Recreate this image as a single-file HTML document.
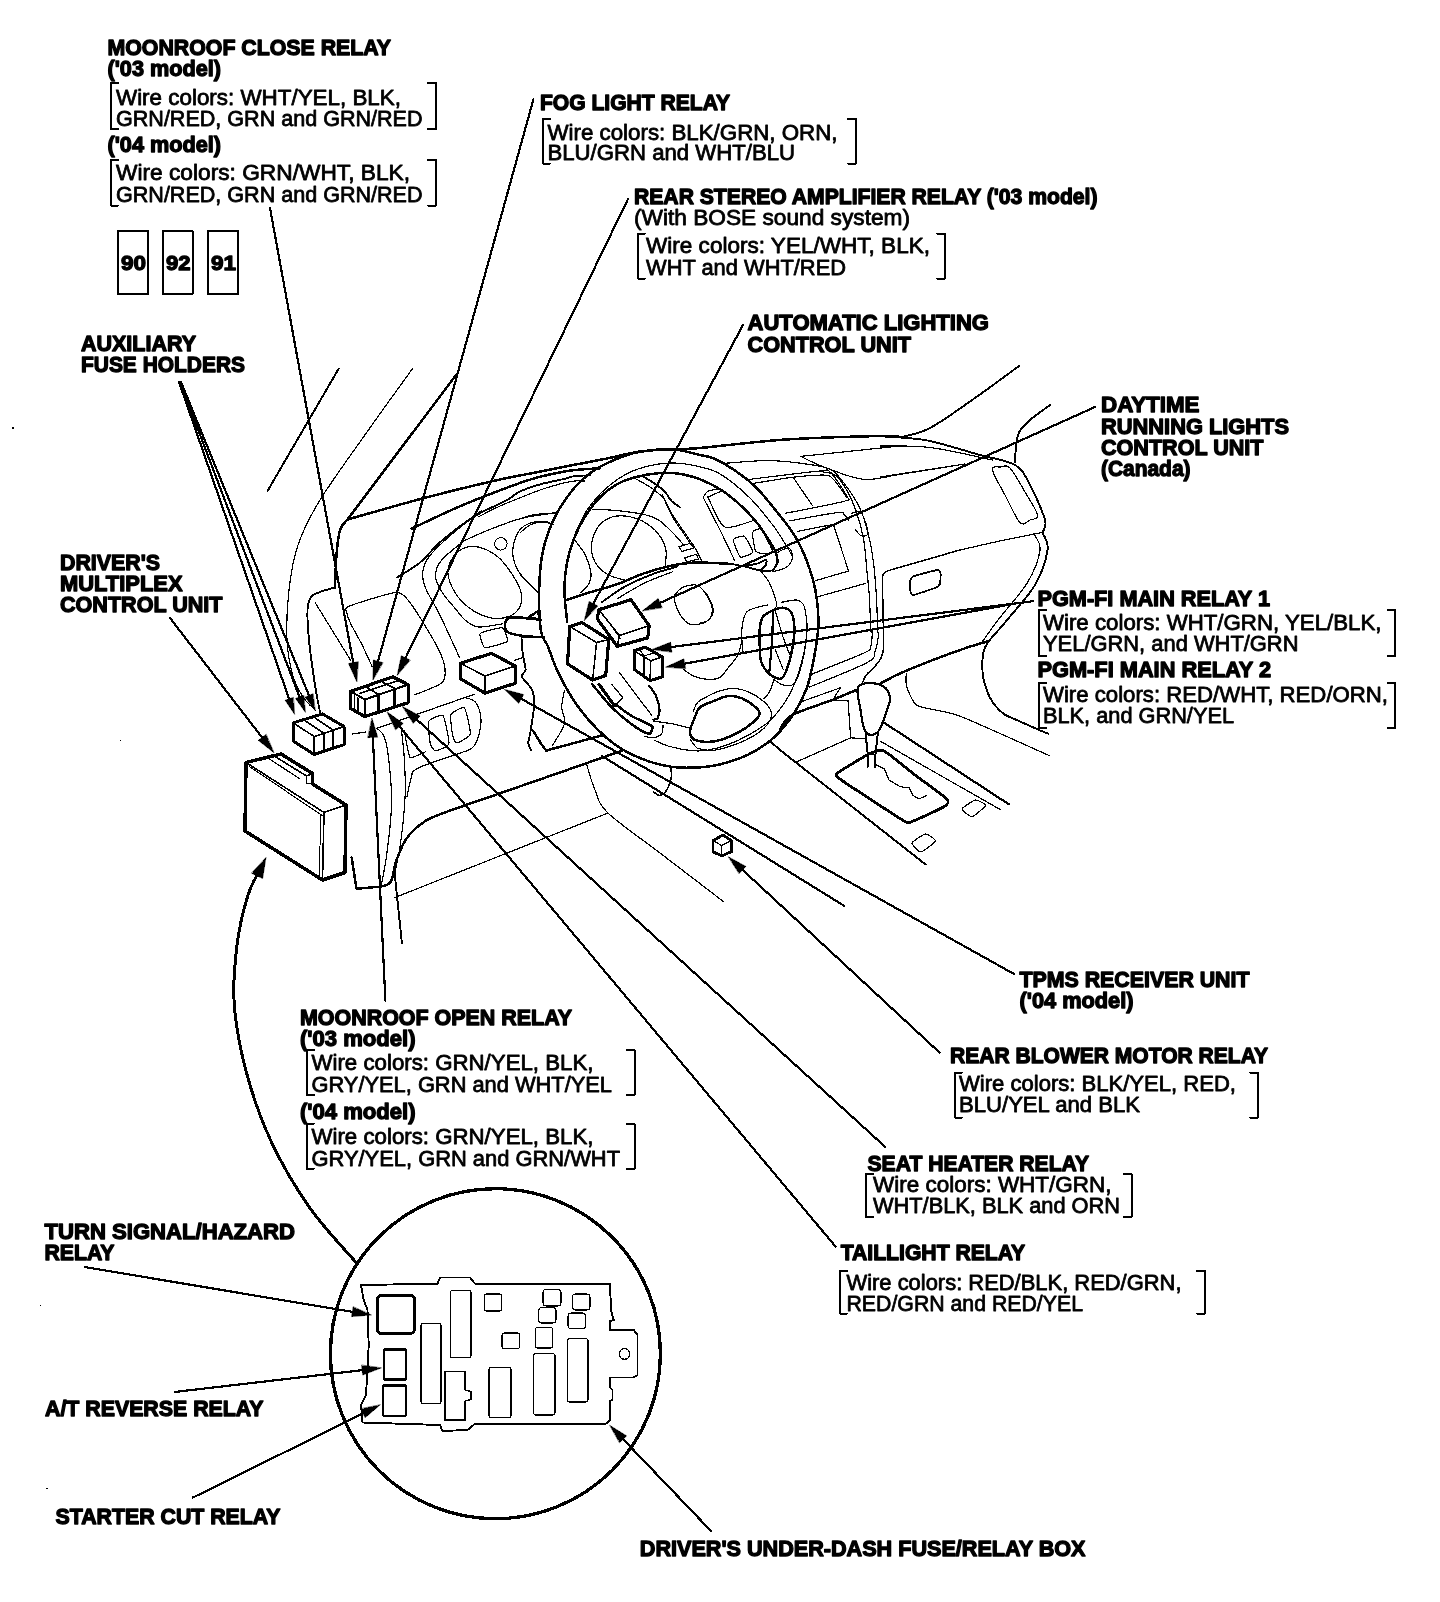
<!DOCTYPE html>
<html><head><meta charset="utf-8"><title>Relay and control unit locations</title>
<style>
html,body{margin:0;padding:0;background:#fff;}
body{width:1440px;height:1602px;overflow:hidden;font-family:"Liberation Sans",sans-serif;}
svg{display:block;will-change:transform;font-family:"Liberation Sans",sans-serif;}
svg path,svg circle,svg rect{stroke-linecap:round;stroke-linejoin:round;shape-rendering:crispEdges;}
svg path{stroke:#000;}
</style></head><body>
<svg width="1440" height="1602" viewBox="0 0 1440 1602" fill="none" stroke="#000">
<rect x="0" y="0" width="1440" height="1602" fill="#fff" stroke="none"/>
<path d="M267.5 491L338.7 368.7" stroke-width="2"/>
<path d="M412.5 368.7C405.8 378.1 387.4 403.1 372 425C356.6 446.9 332.3 480 320 500C307.7 520 303.2 530 298 545C292.8 560 290.8 574.2 289 590C287.2 605.8 286.3 625.7 287 640C287.7 654.3 290.3 666.5 293 676C295.7 685.5 299.2 691.2 303 697C306.8 702.8 313.8 708.7 316 711" stroke-width="1.2" fill="none"/>
<path d="M456 375L347.5 519.5" stroke-width="2.5"/>
<path d="M347.5 519.5C360 516 399 504.7 422.7 498.4C446.4 492.1 470.1 486.3 489.7 481.8C509.2 477.3 526.1 474.4 540 471.6C553.9 468.8 562.3 467.1 573.3 465C584.3 462.9 594.9 460.9 606 458.7C617.1 456.4 628.5 453.1 640 451.5C651.5 449.9 665 449.6 675 449C685 448.4 682 449.6 700 448C718 446.4 755.5 441.6 783.3 439.7C811.1 437.8 847.2 436.8 866.7 436.3C886.2 435.8 894.5 436.7 900 436.8" stroke-width="2.5" fill="none"/>
<path d="M900 437.5C905 435.9 917.5 434.6 930 428C942.5 421.4 960.2 408.3 975 398C989.8 387.7 1011.7 371.3 1019 366" stroke-width="1.9" fill="none"/>
<path d="M347.5 519.5C346.2 521.2 341.8 524.1 340 530C338.2 535.9 337.3 545.4 336.5 555C335.7 564.6 335.2 582.1 335 587.5" stroke-width="2.5" fill="none"/>
<path d="M335 587.5C332.5 588.2 324 590.4 320 592C316 593.6 313.1 594 311 597C308.9 600 307.8 602.8 307.5 610C307.2 617.2 307.8 627.5 309 640C310.2 652.5 313.2 673 315 685C316.8 697 319.2 707.5 320 712" stroke-width="1.9" fill="none"/>
<path d="M1050 405C1046.7 407.5 1035.2 415.4 1030 420C1024.8 424.6 1021.3 428 1019 432.5C1016.7 437 1016.7 442 1016 447C1015.3 452 1015.2 459.9 1015 462.5" stroke-width="1.9" fill="none"/>
<path d="M900 437.5C905 438.1 916.7 438.1 930 441C943.3 443.9 965.8 451 980 455C994.2 459 1006.7 460 1015 465C1023.3 470 1025 475.8 1030 485C1035 494.2 1042.9 512.1 1045 520C1047.1 527.9 1042.9 530.4 1042.5 532.5" stroke-width="1.9" fill="none"/>
<path d="M880 446C888.3 446.2 911.2 445.2 930 447.5C948.8 449.8 982.1 457.9 992.5 460" stroke-width="1.2" fill="none"/>
<path d="M880 477L965 464" stroke-width="1.2"/>
<path d="M992.5 470C991.8 465.3 998.1 467.3 1001 467C1003.9 466.7 1006 463.8 1010 468C1014 472.2 1020.4 484.2 1025 492C1029.6 499.8 1036.7 510.3 1037.5 515C1038.3 519.7 1032.9 518.8 1030 520C1027.1 521.2 1024.2 526.7 1020 522.5C1015.8 518.3 1009.6 503.8 1005 495C1000.4 486.2 993.2 474.7 992.5 470Z" stroke-width="1.2" fill="none"/>
<path d="M1042.5 532.5C1035.4 533.9 1013.8 538.1 1000 541C986.2 543.9 966.7 548.5 960 550" stroke-width="1.2" fill="none"/>
<path d="M960 550C952.1 552.3 901.2 566.8 892.5 569.4C883.8 572 886.2 571.6 885 572.5C883.8 573.4 882.7 572.5 882.5 577.5C882.3 582.5 883 607 883.1 615C883.2 623 883.9 641.2 883.7 646.2C883.5 651.2 882.2 655.2 881.2 657.5C880.2 659.8 876.8 664.2 875 666.2C873.2 668.2 867.7 673.1 866.2 675C864.7 676.9 862.9 681.6 862.5 682.5" stroke-width="1.5" fill="none"/>
<path d="M910 581.2C910.3 579.8 911.4 577.1 913.7 576.2C916 575.3 935.3 570.2 937.5 570C939.7 569.8 940.4 572.6 940.6 573.7C940.8 574.8 940.4 582.6 940 583.7C939.6 584.9 938.4 586.6 936.2 587.5C934 588.4 915.8 594.6 913.7 595C911.6 595.4 910.9 593.6 910.6 592.5C910.3 591.4 909.7 582.6 910 581.2Z" stroke-width="1.8" fill="none"/>
<path d="M1042.5 532.5C1043.3 535.4 1048.8 541.2 1047.5 550C1046.2 558.8 1042.1 572.9 1035 585C1027.9 597.1 1013.3 612.1 1005 622.5C996.7 632.9 988.7 639.2 985 647.5C981.3 655.8 982.2 665.2 982.6 672.5C983 679.8 985.3 686.2 987.2 691.5C989.1 696.8 991.2 700.4 994 704.1C996.8 707.8 999.7 711.1 1003.7 713.9C1007.8 716.7 1012.6 718.1 1018.3 720.7C1024 723.3 1032.7 727.2 1037.7 729.4C1042.7 731.6 1046.6 733.1 1048.4 733.8" stroke-width="1.9" fill="none"/>
<path d="M1033.7 533.7C1034.8 536.4 1041 541.9 1040 550C1039 558.1 1034.5 570.8 1027.5 582.5C1020.5 594.2 1005.9 609.6 998 620C990.1 630.4 983 640.8 980 645" stroke-width="1.2" fill="none"/>
<path d="M989 641C984.2 642.5 974 645 960 650C946 655 918.3 665.6 905 671.2C891.7 676.8 884.2 681.6 880 683.7" stroke-width="2.5" fill="none"/>
<path d="M856.2 690C852.5 691.6 844.3 695.2 833.7 699.4C823.1 703.6 801.5 710.1 792.5 715C783.5 719.9 782.1 726.7 780 729" stroke-width="2.5" fill="none"/>
<path d="M906.2 673.1C906.2 674.3 905.8 681.1 906.2 683.7C906.6 686.3 908.5 692.4 910 695C911.5 697.6 912.9 703.7 918.7 706.2C924.5 708.7 944.8 710.4 960 716.2C975.2 722 1038.6 750.9 1049 755.5" stroke-width="1.2" fill="none"/>
<path d="M351.7 857.6L356.5 888.7L378.9 886.8" stroke-width="2.5" fill="none"/>
<path d="M378.9 886.8C380.8 886 387.7 886.3 390.6 881.9C393.5 877.5 393.8 867.6 396.4 860.5C399 853.4 401.9 845.4 406.1 839.2C410.3 833.1 415.9 827.8 421.7 823.6C427.5 819.4 428.2 818.9 441.1 813.9C454.1 808.9 479.6 800.4 499.4 793.5C519.2 786.6 539.2 779.8 560 772.5C580.8 765.2 613.3 753.8 624 750" stroke-width="2.5" fill="none"/>
<path d="M395 897.5L608 813" stroke-width="1.2"/>
<path d="M587 765.5C588.3 769.6 591.5 782.1 595 790C598.5 797.9 597.2 802.5 608 813C618.8 823.5 640.7 838.2 660 853C679.3 867.8 713.3 893.8 724 902" stroke-width="1.2" fill="none"/>
<path d="M401.9 943L394.5 872" stroke-width="1.9"/>
<path d="M377 728.3C378.3 729.9 382.6 731.5 384.7 738C386.8 744.5 388.5 755.9 389.6 767.2C390.7 778.6 392 791.5 391.5 806.1C391 820.7 388.5 841.1 386.7 854.7C384.9 868.3 381.8 882.3 380.8 887.8" stroke-width="1.2" fill="none"/>
<path d="M401.2 728.3C401.7 733.2 403.5 746.1 404.2 757.5C404.9 768.9 405.8 781.8 405.1 796.4C404.5 811 402.1 832 400.3 845C398.5 858 395.4 869.3 394.4 874.2" stroke-width="1.2" fill="none"/>
<path d="M602 756L844.4 906" stroke-width="2.2"/>
<path d="M653.3 792C654.5 792.6 658 795.9 660.3 795.4C662.6 794.9 665.4 792.3 667.2 789.2C669.1 786.1 670.8 780.4 671.4 776.7C672 773 670.8 768.6 670.7 767" stroke-width="1.6" fill="none"/>
<path d="M769.4 740.6L780 750L925.5 864.4" stroke-width="2" fill="none"/>
<path d="M883 722L1009 804.4" stroke-width="2.2"/>
<path d="M880 741L1001 810" stroke-width="1.2"/>
<path d="M857.8 687.8C859.3 683.8 864.6 683.2 869 683C873.4 682.8 880.5 684.2 884 686.7C887.5 689.2 889.5 693.8 890 697.8C890.5 701.8 888.7 705.3 886.7 711C884.7 716.7 881.3 728.5 877.8 732C874.3 735.5 868.5 736.2 865.5 732C862.5 727.8 861.3 714.1 860 706.7C858.7 699.3 856.3 691.8 857.8 687.8Z" stroke-width="2.2" fill="none"/>
<path d="M865.5 733L867.8 754.4L867.8 766.7" stroke-width="2" fill="none"/>
<path d="M877.8 733L875.5 754.4L875 766.7" stroke-width="2" fill="none"/>
<path d="M867.8 754.4L875.5 754.4" stroke-width="1.8"/>
<path d="M837.8 773C840.7 770.5 864.4 756.2 869 754C873.6 751.8 879.4 748.9 884 751C888.6 753.1 908.7 770.2 915 775C921.3 779.8 943.8 795.8 946.7 799C949.6 802.2 947.6 804.4 944 806.7C940.4 809 915 820.6 911 822C907 823.4 908.1 823.3 904 821C899.9 818.7 876.4 803.2 870 799C863.6 794.8 843.2 781.6 840 779C836.8 776.4 834.9 775.5 837.8 773Z" stroke-width="2.8" fill="none"/>
<path d="M875.5 764.4L884.4 769L889 780L900 786.7L909 787.8L913 795.5L919 799L926.7 795.5" stroke-width="1.2" fill="none"/>
<path d="M962 809C962.3 807.6 973.5 800.3 975.5 800C977.5 799.7 985.8 804.1 985.5 805.5C985.2 806.9 974 816.4 972 816.7C970 817 961.7 810.4 962 809Z" stroke-width="1.2" fill="none"/>
<path d="M912 843C912.4 841.5 923.5 834.2 925.5 834C927.5 833.8 935.9 839.5 935.5 841C935.1 842.5 923 851.8 921 852C919 852.2 911.6 844.5 912 843Z" stroke-width="1.2" fill="none"/>
<path d="M411.5 528.7C419.2 525.1 443.4 513.5 457.8 507.2C472.2 500.9 487.3 495.2 497.7 491.2C508.1 487.2 513 485.4 520 483C527 480.6 531.5 478.9 540 476.8C548.5 474.7 561.2 471.9 571.2 470.5C581.2 469.1 595 468.7 599.7 468.3" stroke-width="2.5" fill="none"/>
<path d="M397 577.4C400.8 575 412 569.1 419.5 563C427 556.9 432.8 548.4 441.8 540.7C450.9 533 463.2 523.4 473.8 516.7C484.4 510.1 498 505 505.7 500.8C513.4 496.6 514.3 494.2 520 491.5C525.7 488.8 532.6 486.5 540 484.4C547.4 482.3 558.5 480.3 564.3 478.9C570.1 477.5 570.4 476.7 574.7 476.1C579 475.5 587.5 475.5 590 475.4" stroke-width="1.9" fill="none"/>
<path d="M478 517C481.7 515.2 493 509.2 500 506C507 502.8 513.3 500.5 520 497.8C526.7 495.1 533.2 492.4 540 490C546.8 487.6 555 485.2 560.8 483.7C566.6 482.2 570.8 481.4 574.7 481C578.6 480.6 582.8 481 584.4 481" stroke-width="1.2" fill="none"/>
<path d="M464.2 540.7C468.4 538.8 480.1 533.2 489.7 529.5C499.3 525.8 510.7 521.1 521.7 518.3C532.8 515.5 550.3 513.8 556 512.9" stroke-width="1.2" fill="none"/>
<path d="M464.2 540.7C460.5 543.9 446.6 554 441.8 559.9C437 565.8 435.4 570.5 435.4 575.8C435.4 581.1 438.6 586.5 441.8 591.8C445 597.1 450.6 603 454.6 607.8C458.6 612.6 461.8 617.4 465.8 620.6C469.8 623.8 472.5 626.5 478.6 627C484.7 627.5 498.5 624.3 502.5 623.8" stroke-width="1.2" fill="none"/>
<path d="M481.8 510.4C476.5 514.6 458.6 528.2 449.8 535.9C441 543.6 433.5 550.6 429 556.7C424.5 562.8 423.2 567.4 422.7 572.7C422.2 578 423.1 582 425.8 588.6C428.5 595.2 434.3 604.1 438.6 612.6C442.9 621.1 447.9 632.2 451.4 639.7C454.9 647.2 458.1 654.4 459.4 657.3" stroke-width="1.2" fill="none"/>
<path d="M448.2 575.8C447.1 569.7 449 564.4 451.4 559.9C453.8 555.4 458.1 550.8 462.6 548.7C467.1 546.6 472.8 545.8 478.6 547.1C484.5 548.4 492.1 552.2 497.7 556.7C503.3 561.2 508.2 568.4 512.1 574.3C516 580.1 519.6 586.5 520.9 591.8C522.2 597.1 521.8 602.2 520.1 606.2C518.4 610.2 515 613.8 510.5 615.8C506 617.8 499 619 492.9 618.2C486.8 617.4 479.6 614.6 473.8 611C468 607.4 462.1 602.5 457.8 596.6C453.5 590.7 449.3 581.9 448.2 575.8Z" stroke-width="1.2" fill="none"/>
<circle cx="500.9" cy="543.9" r="6.2" stroke="#000" stroke-width="1" fill="none"/>
<path d="M552 524C549.6 523.6 542.8 520.9 537.7 521.5C532.7 522.1 525.7 524.2 521.7 527.9C517.7 531.6 515 538.6 513.7 543.9C512.4 549.2 512.4 554.6 513.7 559.9C515 565.2 517.7 570.5 521.7 575.8C525.7 581.1 535 589.1 537.7 591.8" stroke-width="1.2" fill="none"/>
<path d="M539.3 619C535.9 618.8 514.5 616.8 510.5 617.4C506.5 618 505.3 622.1 504.9 623.8C504.5 625.5 505.3 630.4 507.3 631.8C509.3 633.2 517.4 635.1 521.7 635.8C526 636.5 541.4 637.2 544 637.4" stroke-width="2.5" fill="none"/>
<path d="M529.7 617.4L537.7 611L539.3 619" stroke-width="1.9" fill="none"/>
<path d="M480.2 633.4C481.4 632.1 500.7 627.3 502.5 627.8C504.3 628.3 508.5 640.1 507.3 641.4C506.1 642.7 486.8 648.2 485 647.7C483.2 647.2 479 634.7 480.2 633.4Z" stroke-width="1.2" fill="none"/>
<path d="M514.5 660.5L523.3 657.3" stroke-width="1.2"/>
<path d="M372.3 666.9C370.9 663.9 364.8 650.2 361.9 644.5C359 638.8 352.8 628.1 350.8 623.8C348.8 619.5 347 614.9 346.8 612.6C346.6 610.3 343.3 608.8 349.2 606.2C355.1 603.6 383.7 595 390.7 593.4C397.7 591.8 399.1 592.7 401.9 594.2C404.7 595.7 408.3 600.2 411.5 604.6C414.7 609 422.2 621 425.8 627C429.4 633 436 643.8 438.6 649.3C441.2 654.8 444.6 664 445 668.5C445.4 673 445.8 679.4 441.8 682.9C437.8 686.4 418.3 693.3 414.7 694.9" stroke-width="1.2" fill="none"/>
<path d="M315.2 602.7L350.8 660.5" stroke-width="1.2"/>
<path d="M352.6 734L365.3 732" stroke-width="1.2"/>
<path d="M377 728.3L474.2 694.3" stroke-width="1.2"/>
<path d="M464.4 697.2C466.3 698.2 473.3 698.8 476.1 703C478.9 707.2 481.3 715.4 481 722.5C480.7 729.6 477.9 740.6 474.2 745.8C470.5 751 468 749.9 458.6 753.6C449.2 757.3 425.7 764 417.8 768.2C409.9 772.4 412.8 774.2 411 778.9C409.2 783.6 407.8 793.5 407.1 796.4" stroke-width="1.2" fill="none"/>
<path d="M428.5 721.5C429.6 719.1 441.3 713.8 443 715.7C444.7 717.6 449.5 741 448.9 743.9C448.3 746.8 436.8 750.7 435.3 750.7C433.8 750.7 431 746.3 430.4 743.9C429.8 741.5 427.4 723.9 428.5 721.5Z" stroke-width="1.2" fill="none"/>
<path d="M450.8 714.7C451.8 712.4 462.8 706.3 464.4 707.9C466 709.5 470.9 731.3 470.3 734.2C469.7 737.1 458.2 742.7 456.7 742.9C455.2 743.1 453.3 738.5 452.8 736.1C452.3 733.8 449.8 717.1 450.8 714.7Z" stroke-width="1.2" fill="none"/>
<path d="M404.2 730.3C404.6 732.1 408.6 756.1 410 757.5C411.4 758.9 424.6 752.1 425.6 751.7" stroke-width="1.2" fill="none"/>
<path d="M540.8 630C539.4 619.5 538.9 596.5 539.4 582.8C539.9 569.1 541 558.9 543.6 548C546.2 537.1 549.8 527.2 554.7 517.5C559.6 507.8 566.5 497.3 572.8 489.7C579 482.1 585.3 476.7 592.2 471.7C599.1 466.7 606.8 463.1 614.4 459.9C622 456.6 628.3 453.9 638 452.2C647.7 450.4 662.5 448.9 672.8 449.4C683.1 449.9 693.1 453.5 700 455C706.9 456.5 708.1 455.9 713.9 458.5C719.7 461.1 727.8 465.6 734.7 470.3C741.7 475 749.1 480.6 755.6 486.9C762.1 493.1 768.1 501.1 773.6 507.8C779.1 514.5 784.5 521 788.9 527.2C793.3 533.5 796.5 538.3 800 545.3C803.5 552.2 807.2 561.5 809.7 568.9C812.2 576.3 813.9 582.8 815.3 589.7C816.7 596.7 817.5 603.8 818 610.6C818.5 617.5 818.7 622.8 818 630.8C817.3 638.8 815.8 649.1 813.9 658.6C812 668.1 810.1 678.8 806.9 687.8C803.6 696.8 799.9 704.5 794.4 712.8C788.9 721.1 781.2 730.9 773.6 737.8C766 744.7 757.4 750 748.6 754.4C739.8 758.8 728.9 762.1 720.8 764.2C712.7 766.4 708 766.8 700 767.3C692 767.8 682 768.2 672.8 767C663.6 765.8 654.3 763.5 645 760C635.7 756.5 626 752.1 617.2 746.1C608.4 740.1 599.6 731.8 592.2 723.9C584.8 716 578.6 707.7 572.8 698.9C567 690.1 561.7 679.9 557.5 671.1C553.3 662.3 550.6 653 547.8 646.1C545 639.2 542.2 640.5 540.8 630Z" stroke-width="2.5" fill="none"/>
<path d="M567.2 621.7C566.7 616.4 564.4 599.7 564.4 589.7C564.4 579.7 565.6 570.5 567.2 561.9C568.8 553.3 571.2 545.9 574.2 538.3C577.2 530.7 580.9 523 585.3 516.1C589.7 509.2 595.3 502 600.6 496.7C605.9 491.4 611.4 487.4 617.2 484.2C623 480.9 628.3 479 635.3 477.2C642.2 475.4 651.5 473.7 658.9 473.1C666.3 472.5 672.9 472.8 679.7 473.8C686.6 474.8 693.1 476.7 700 479.3C706.9 481.9 713.8 485.2 720.8 489.7C727.8 494.2 735.5 500.6 741.7 506.4C748 512.2 753.7 518.6 758.3 524.4C762.9 530.2 766.5 536.5 769.4 541.1C772.3 545.7 774.3 548.7 775.7 552.2C777.1 555.7 777.4 560.3 777.8 561.9" stroke-width="2.5" fill="none"/>
<path d="M574.2 535.6C576.3 531.4 581.4 518.5 586.7 510.6C592 502.7 598.7 494.8 606.1 488.3C613.5 481.8 622.3 475.8 631.1 471.7C639.9 467.6 650.8 465.4 658.9 464C667 462.6 672.9 462.8 679.7 463.3C686.6 463.8 693.1 465 700 466.8C706.9 468.6 712.7 469.4 720.8 474.4C728.9 479.4 740 488.4 748.6 496.7C757.2 505 766 516.3 772.2 524.4C778.5 532.5 782.9 540.2 786.1 545.3C789.4 550.4 790.8 553.4 791.7 555" stroke-width="1.2" fill="none"/>
<path d="M782 602.2C784.5 601.9 793.5 599.4 797.2 600.1C800.9 600.8 802.6 602.4 804.2 606.4C805.8 610.4 806.5 619.8 807 623.9C807.5 628 807.5 626.2 807 630.8C806.5 635.4 805.8 644.1 804.2 651.7C802.6 659.4 800.2 668.6 797.2 676.7C794.2 684.8 790.7 692.9 786.1 700.3C781.5 707.7 775.6 715.3 769.4 721.1C763.1 726.9 755.5 731.1 748.6 735C741.7 738.9 734.7 742.2 727.8 744.7C720.9 747.2 713.3 749.3 707 750.3C700.7 751.3 696.5 751.2 690 750.5C683.5 749.8 673.8 747.7 668 746C662.2 744.3 657.2 741.4 655 740.5" stroke-width="1.2" fill="none"/>
<path d="M665.1 566.1C665.2 563.3 667.1 555 665.8 549.4C664.5 543.8 661.4 537.5 657.5 532.8C653.6 528.1 647.5 523.8 642.2 521C636.9 518.2 630.9 516.7 625.6 516.1C620.3 515.5 614.9 515.6 610.3 517.5C605.7 519.4 600.9 522.6 597.8 527.2C594.7 531.8 592 539.5 591.5 545.3C591 551.1 592.3 557 595 561.9C597.7 566.8 602.2 571.3 607.5 574.4C612.8 577.5 623.7 579.7 626.9 580.7" stroke-width="1.2" fill="none"/>
<path d="M592.2 509.2C596.4 509.4 608.4 509.7 617.2 510.6C626 511.5 638 513.1 645 514.7C652 516.3 654.3 517.3 658.9 520.3C663.5 523.3 668.6 528.6 672.8 532.8C677 537 682 543.2 683.9 545.3" stroke-width="1.2" fill="none"/>
<path d="M575.6 541.1C577.2 543.4 582.8 549.9 585.3 555C587.8 560.1 590.1 567.1 590.8 571.7C591.5 576.3 591 579.3 589.4 582.8C587.8 586.3 582.5 590.9 581.1 592.5" stroke-width="1.2" fill="none"/>
<path d="M520 518.9C522.3 518.2 527.4 515.8 533.9 514.7C540.4 513.7 554.7 513 558.9 512.6" stroke-width="1.2" fill="none"/>
<path d="M520 532.8C521.9 531.4 526.9 526.2 531.1 524.4C535.3 522.5 541.3 521.7 545 521.7C548.7 521.7 551.9 524 553.3 524.4" stroke-width="1.2" fill="none"/>
<path d="M520 575.1L538 592.5" stroke-width="1.2"/>
<path d="M642.2 475.8C644.1 477 649.6 480.2 653.3 482.8C657 485.4 661.4 488.1 664.4 491.1C667.4 494.1 668.8 498.1 671.4 500.8C674 503.5 678.3 506.1 679.7 507.1" stroke-width="1.9" fill="none"/>
<path d="M635.3 478.6C638.1 480.2 647 484.8 651.9 488.3C656.8 491.8 661.1 495.2 664.4 499.4C667.6 503.6 667.7 507.3 671.4 513.3C675.1 519.3 682.8 529.8 686.7 535.6C690.6 541.4 692.5 543.7 695 548C697.5 552.3 700.8 559.1 701.9 561.3" stroke-width="1.2" fill="none"/>
<path d="M662 494C663.7 497.7 668.3 509.3 672 516C675.7 522.7 680.7 529 684 534C687.3 539 690.7 544 692 546" stroke-width="1.2" fill="none"/>
<path d="M679 546.7L690.8 543.2L693.6 548L681.8 551.5Z" stroke-width="1.2" fill="none"/>
<path d="M684.6 557.8L696.4 554.3L698.5 559.2L686.7 561.9Z" stroke-width="1.2" fill="none"/>
<path d="M565.8 600.1C569.7 598.8 580.8 595.1 589.4 592.5C598 589.9 607.9 587.5 617.2 584.2C626.5 581 635.7 576.1 645 573C654.3 569.9 664.7 567.1 672.8 565.4C680.9 563.7 685.7 563 693.6 562.6C701.5 562.2 713.6 563.1 720 563.3C726.4 563.5 729.9 563.9 731.9 564" stroke-width="2.5" fill="none"/>
<path d="M601.9 602.2C605.6 599.7 615.9 591.6 624.2 587C632.5 582.4 643.1 577.8 651.9 574.4C660.7 571 672.7 568.1 676.9 566.8" stroke-width="1.9" fill="none"/>
<path d="M617.2 598.8C621.8 596.1 635.7 587.3 645 582.8C654.3 578.3 668.2 573.6 672.8 571.7" stroke-width="1.2" fill="none"/>
<path d="M731.9 564C734.2 564.5 741.2 565.8 745.8 566.8C750.4 567.8 755.3 569.7 759.7 570.3C764.1 570.9 769.2 571.7 772.2 570.3C775.2 568.9 776.9 563.3 777.8 561.9" stroke-width="1.9" fill="none"/>
<path d="M777.8 552.2C779.6 551.5 786.5 547.1 788.9 548C791.3 548.9 792.9 554.5 792.4 557.8C791.9 561 789.5 565.2 786.1 567.5C782.7 569.8 774.5 571 772.2 571.7" stroke-width="1.2" fill="none"/>
<path d="M745.8 566C747.9 565.5 754.9 564.3 758.3 563.3C761.7 562.3 764.8 559.4 766 559.9C767.2 560.4 766.3 564.3 765.3 566C764.2 567.7 760.6 569.6 759.7 570.3" stroke-width="1.9" fill="none"/>
<path d="M761.1 571.7C762.5 573.6 766.9 577.7 769.4 582.8C771.9 587.9 775.3 598 776.4 602.2C777.5 606.4 775.8 606.9 775.7 607.8" stroke-width="1.2" fill="none"/>
<path d="M675.6 593.9C677.2 591.8 680.2 588.3 683.9 586.9C687.6 585.5 693.9 584 697.8 585.6C701.7 587.2 705.1 592.5 707.5 596.7C709.9 600.9 712.6 606.4 712.4 610.6C712.2 614.8 709.7 619.4 706.1 621.7C702.5 624 695 625.3 690.8 624.4C686.6 623.5 683.9 620.3 681.1 616.1C678.3 611.9 675.1 603.1 674.2 599.4C673.3 595.7 674 596 675.6 593.9Z" stroke-width="1.2" fill="none"/>
<path d="M700 587C701.4 588.6 706.1 592.8 708.3 596.7C710.5 600.6 713.2 606.7 713.2 610.6C713.2 614.5 710.5 618.2 708.3 620.3C706.1 622.4 701.4 622.5 700 623" stroke-width="1.2" fill="none"/>
<path d="M683.9 669.7C685.8 670.9 690.8 675.1 695 676.7C699.2 678.3 704.7 679.3 708.9 679.4C713.1 679.5 716.9 679.2 720 677.4C723.1 675.5 724.9 671.9 727.8 668.3C730.7 664.7 735.2 660.2 737.5 655.8C739.8 651.4 741 644.3 741.7 642" stroke-width="1.2" fill="none"/>
<path d="M759.7 630C760.2 625.9 760.4 620.7 762.5 617.5C764.6 614.3 768.7 612.2 772.2 610.6C775.7 609 780 607.3 783.3 607.8C786.5 608.2 789.9 609.5 791.7 613.3C793.6 617.1 794.4 624.4 794.4 630.8C794.4 637.2 793.1 645 791.7 651.7C790.3 658.4 788 666.6 786.1 671.1C784.2 675.6 783.4 678.3 780.6 678.8C777.8 679.3 772.6 676.8 769.4 673.9C766.1 671 762.7 666.7 761.1 661.4C759.5 656.1 759.9 647.2 759.7 642C759.5 636.8 759.2 634.1 759.7 630Z" stroke-width="2.5" fill="none"/>
<path d="M772.9 610C772.8 614.6 772.8 627.6 772.2 637.8C771.6 648 769.9 665.5 769.4 671.1" stroke-width="2.2" fill="none"/>
<path d="M775 610C776.4 614.6 780.8 630.2 783.3 637.8C785.8 645.4 789.1 652.8 790.3 655.8" stroke-width="1.2" fill="none"/>
<path d="M775 648.9L783.3 669.7" stroke-width="1.2"/>
<path d="M768 605C765.9 605.5 759.3 606.4 755.6 607.8C751.9 609.2 748.1 609.5 745.8 613.3C743.5 617.1 742.2 624.4 741.7 630.8C741.2 637.2 742.8 648.2 743 651.7" stroke-width="1.2" fill="none"/>
<path d="M773.6 679.4C775.2 680.3 779.8 684.3 783.3 685C786.8 685.7 791.4 686.8 794.4 683.6C797.4 680.4 799.5 672.1 801.4 665.6C803.3 659.1 804.7 651.7 805.6 644.7C806.5 637.8 806.8 627.4 807 623.9" stroke-width="1.2" fill="none"/>
<path d="M773.6 680.8C772.9 682.7 771 689 769.4 692C767.8 695 764.8 697.8 763.9 698.9" stroke-width="1.2" fill="none"/>
<path d="M700 707.2C703.1 704.6 709.3 702.9 713.9 701C718.5 699.1 723.2 696.6 727.8 696.1C732.4 695.6 737.1 696.4 741.7 698.2C746.3 700.1 752.6 704.5 755.6 707.2C758.6 709.9 760.2 711.7 759.7 714.2C759.2 716.8 756.3 719.5 752.8 722.5C749.3 725.5 744.2 729.3 738.9 732.2C733.6 735.1 726.1 738.3 720.8 739.9C715.5 741.5 711.5 742 707 741.9C702.5 741.8 696.4 741.1 693.6 739.2C690.8 737.4 689.9 734.5 690.1 730.8C690.3 727.1 693.4 720.8 695 716.9C696.6 713 696.9 709.9 700 707.2Z" stroke-width="2.5" fill="none"/>
<path d="M700 700.3C702.8 698.9 711.2 694 716.7 692C722.2 690 728 688.5 733.3 688.5C738.6 688.5 743.5 689.8 748.6 692C753.7 694.2 760.1 698.2 763.9 701.7C767.7 705.2 771 708.9 771.5 712.8C772 716.7 769.8 721.4 766.7 725.3C763.6 729.2 758.1 733.2 752.8 736.4C747.5 739.6 741.2 742.4 734.7 744.7C728.2 747 719.7 749.6 713.9 750.3C708.1 751 702.3 749.1 700 748.9" stroke-width="1.2" fill="none"/>
<path d="M700 700.3C699.4 700.9 697.6 702 696.4 704C695.2 706 693.6 710.7 693 712" stroke-width="1.2" fill="none"/>
<path d="M690.1 739.2C691.1 740.6 694.8 745.9 696.4 747.5C698 749.1 699.4 748.7 700 748.9" stroke-width="1.2" fill="none"/>
<path d="M649.2 685.7C650.4 687.4 654.4 692.1 656.1 696.1C657.8 700.1 659.4 706.3 659.6 710C659.8 713.7 658.5 716.7 657.5 718.3C656.5 719.9 654 719.5 653.3 719.7" stroke-width="2.2" fill="none"/>
<path d="M653.3 721.1C656.5 721.6 666.8 722.8 672.8 723.9C678.8 725 686.6 727.3 689.4 728" stroke-width="1.2" fill="none"/>
<path d="M663 725.3C662.8 726.7 663.3 731.5 661.7 733.6C660.1 735.7 656.1 737.3 653.3 737.8C650.5 738.3 646.4 736.6 645 736.4" stroke-width="1.2" fill="none"/>
<path d="M619.3 672.5L651.9 715.6" stroke-width="1.2"/>
<path d="M592.2 684.3C595.5 688.1 605.2 700.6 611.7 707.2C618.2 713.8 625.1 719.5 631.1 723.9C637.1 728.3 644.3 732.7 647.8 733.6C651.3 734.5 651.4 730.8 651.9 729.4C652.4 728 654.1 727.6 650.6 725.3C647.1 723 636.9 719.1 631.1 715.6C625.3 712.1 618.3 706.3 615.8 704.4" stroke-width="2.5" fill="none"/>
<path d="M599 684.3L614.5 705.8" stroke-width="3.2"/>
<path d="M611.7 684.3L622.8 697.5L615.8 704.4" stroke-width="1.2" fill="none"/>
<path d="M520 617.6L540.8 619.7" stroke-width="2.5"/>
<path d="M528.3 617L539.4 610" stroke-width="1.9"/>
<path d="M521.4 636.4L543.6 637.1" stroke-width="2.5"/>
<path d="M521.4 636.4C521.6 639.4 522.1 648.8 522.8 654.4C523.5 660 525.7 666 525.6 669.7C525.5 673.4 520.9 673.2 522 676.7C523.1 680.2 530.5 685.5 532.5 690.6C534.5 695.7 534.2 700.3 533.9 707.2C533.5 714.1 531.3 726.2 530.4 732.2C529.5 738.2 528.2 740.3 528.3 743.3C528.4 746.3 530.6 749.1 531.1 750.3" stroke-width="1.9" fill="none"/>
<path d="M531.1 729.4C531.6 729.9 531.6 729 533.9 732.2C536.2 735.5 542 746.1 545 748.9C548 751.7 542.3 751.2 552 748.9C561.7 746.6 594.8 737.3 603.3 735" stroke-width="2.5" fill="none"/>
<path d="M564.4 690.6C564 693.4 561.7 701.7 561.7 707.2C561.7 712.8 566 717.4 564.4 723.9C562.8 730.4 554.1 742.4 552 746.1" stroke-width="1.2" fill="none"/>
<path d="M734.7 560.6C732.2 555.5 725.2 540.4 720 530C714.8 519.6 706.2 503.3 703.5 498" stroke-width="1.2" fill="none"/>
<path d="M703.5 496.7C704.3 495.8 705.6 492.4 708.3 491.1C710.9 489.8 717.5 489.4 719.4 489" stroke-width="1.2" fill="none"/>
<path d="M720 491.8C718.2 492.6 710.8 495.4 709 496.7C707.2 498 707 495 709 499.4C711 503.8 717.2 518.4 720.8 523C724.4 527.6 725 527.7 730.6 527.2C736.2 526.8 750.3 521.4 754.2 520.3" stroke-width="1.2" fill="none"/>
<path d="M733.3 539.7C733.6 538 742.8 535.3 744.4 536.3C746 537.3 753.1 550.5 752.8 552.2C752.5 553.9 741.9 558 740.3 557C738.7 556 733 541.4 733.3 539.7Z" stroke-width="1.2" fill="none"/>
<path d="M752.5 532.5C753 530.7 759.4 527.7 761.1 529.3C762.8 530.9 772.8 550 773 552C773.2 554 765.4 553.7 763.9 553.6C762.4 553.5 756.6 552.6 755.6 550.8C754.6 549 752 534.3 752.5 532.5Z" stroke-width="1.2" fill="none"/>
<path d="M750 479.3C755.8 478.6 773.2 476.4 785 475C796.8 473.6 813.2 471.4 820.8 471C828.4 470.6 826.2 468.1 830.6 472.4C835 476.7 844.7 492 847.2 496.7C849.7 501.4 851.2 499 845.8 500.8C840.4 502.6 825.1 505.4 815 507.5C804.9 509.6 790.3 512.3 785.4 513.3" stroke-width="1.2" fill="none"/>
<path d="M752.8 483.5C756.8 482.9 785.4 478 793 477.2C800.6 476.4 823.8 473.7 829.2 475.8C834.6 477.9 845.4 495.8 847.2 498" stroke-width="1.2" fill="none"/>
<path d="M793 477.2L812.5 505.7" stroke-width="1.2"/>
<path d="M800.7 456.4L900 446" stroke-width="1.2"/>
<path d="M800.7 456.4C804.8 458.2 814.5 463.7 825 467.5C835.5 471.3 851.4 478.2 863.9 479.3C876.4 480.4 883.1 476.9 900 474.4C916.9 471.8 954.2 465.7 965 464" stroke-width="1.2" fill="none"/>
<path d="M724.3 463.3C731.8 462.9 754.9 460.4 769.4 460.6C783.9 460.8 800.7 463.1 811.1 464.7C821.5 466.3 826.1 466.8 831.9 470.3C837.7 473.8 841.2 479.4 845.8 485.6C850.4 491.9 856 499.9 859.7 507.8C863.4 515.7 865.7 523.5 868 532.8C870.3 542 872.2 552.6 873.6 563.3C875 573.9 875.7 585.6 876.4 596.7C877.1 607.8 877.4 623.6 877.8 630C878.1 636.4 879 631.4 878.5 635C878 638.6 877 647.1 875 651.7C873 656.3 877.6 656.9 866.7 662.8C855.8 668.7 819.2 683 809.7 687" stroke-width="1.2" fill="none"/>
<path d="M822.2 471.7C824.5 472.4 831.9 472.6 836.1 475.8C840.3 479 843.7 484.9 847.2 491.1C850.7 497.4 854.1 505 856.9 513.3C859.7 521.6 862.3 531.8 863.9 541.1C865.5 550.4 865.8 559.6 866.7 568.9C867.6 578.2 868.7 586.5 869.4 596.7C870.1 606.9 870.3 624.3 870.8 630C871.3 635.7 872.2 628.1 872.2 630.8C872.2 633.5 872.2 642.4 870.8 646.1C869.4 649.8 873.6 648.4 863.9 653C854.2 657.6 821.1 670.4 812.5 673.9" stroke-width="1.2" fill="none"/>
<path d="M788.9 521C797 519.6 828.2 513.6 837.5 512.6C846.8 511.6 842.5 513.4 844.4 514.7C846.2 516 847.9 519.4 848.6 520.3" stroke-width="1.2" fill="none"/>
<path d="M797.2 531.4L833.3 524.4L848.6 571L815.3 580.7" stroke-width="1.2" fill="none"/>
<path d="M818 596.7L865.3 583.5" stroke-width="1.2"/>
<path d="M851.4 513.3C853 513.2 858.3 509.4 861.1 512.6C863.9 515.9 868 529 868 532.8C868 536.6 863.2 536.1 861.1 535.6C859 535.1 856.5 530.9 855.6 530" stroke-width="1.2" fill="none"/>
<path d="M833.3 700.3L848 700.3L850.7 737.8L794.4 762.8" stroke-width="1.2" fill="none"/>
<path d="M850.7 737.8L866 739" stroke-width="1.2"/>
<path d="M801.4 701.7L840.3 687.8L833.3 699" stroke-width="1.2" fill="none"/>
<path d="M246 762.5L281 754L312.5 773.5L312.5 784L346 805L345 872.5L322.5 880L245 831Z" stroke-width="3.5" fill="#fff"/>
<path d="M246 762.5L324 812.5L346 805" stroke-width="1.6" fill="none"/>
<path d="M324 812.5L322.5 880" stroke-width="1.6" fill="none"/>
<path d="M249.5 766.5L322 815.5" stroke-width="1.1" fill="none"/>
<path d="M320.5 816L319.5 877" stroke-width="1" fill="none"/>
<path d="M275 756.5L306.5 776L312.5 773.5" stroke-width="1.6" fill="none"/>
<path d="M306.5 776L306.5 783.5L312.5 784" stroke-width="1.2" fill="none"/>
<path d="M268 758L300 779" stroke-width="1.2" fill="none"/>
<path d="M293.1 722.9L322.4 713.9L344 726.5L344 744.6L314.2 754.5L293.1 741Z" stroke-width="3" fill="#fff"/>
<path d="M293.1 722.9L314.2 736.5L344 726.5" stroke-width="1.6" fill="none"/>
<path d="M314.2 736.5L314.2 754.5" stroke-width="1.6" fill="none"/>
<path d="M324.2 733.4L324.2 750.9" stroke-width="2"/>
<path d="M333.2 730.1L333.2 747.3" stroke-width="2"/>
<path d="M324.2 733.4L304.3 720.2" stroke-width="1.5"/>
<path d="M333.2 730.1L313.6 717" stroke-width="1.5"/>
<path d="M350.7 691.3L392.8 676.9L408.1 684.6L408.1 702.7L364.8 716.6L350.7 708.5Z" stroke-width="3.2" fill="#fff"/>
<path d="M350.7 691.3L364.8 699.5L408.1 684.6" stroke-width="2" fill="none"/>
<path d="M364.8 699.5L364.8 716.6" stroke-width="2" fill="none"/>
<path d="M378.3 694.2L378.3 711.6" stroke-width="2.5"/>
<path d="M394.6 688.6L394.6 706.7" stroke-width="2.5"/>
<path d="M378.3 694.2L368 688.2" stroke-width="1.8"/>
<path d="M394.6 688.6L383 682.2" stroke-width="1.8"/>
<path d="M354.5 694L354.5 710.5" stroke-width="1.6"/>
<path d="M358 697.8L358 712.6" stroke-width="1.2"/>
<path d="M360 693.3L398 680.8" stroke-width="1.5" fill="none"/>
<path d="M460.5 663.3L491.2 653.4L515.6 666L515.6 683.2L484.9 693.1L460.5 678.7Z" stroke-width="3.2" fill="#fff"/>
<path d="M460.5 663.3L484.9 676L515.6 666" stroke-width="1.6" fill="none"/>
<path d="M484.9 676L484.9 693.1" stroke-width="1.6" fill="none"/>
<path d="M569.8 626.5L582 622.6L608.8 639.5L605.7 675.4L592.7 680L567.5 663.9Z" stroke-width="3.2" fill="#fff"/>
<path d="M569.8 626.5L596.5 642.5L608.8 639.5" stroke-width="1.5" fill="none"/>
<path d="M596.5 642.5L592.7 680" stroke-width="1.5" fill="none"/>
<path d="M598.8 609.7L630.9 599.7L649.2 625.7L647.7 637.9L617.2 646.3L597.3 618.8Z" stroke-width="3.2" fill="#fff"/>
<path d="M598.8 609.7L619.5 635.6L649.2 625.7" stroke-width="1.5" fill="none"/>
<path d="M619.5 635.6L617.2 646.3" stroke-width="1.5" fill="none"/>
<path d="M601.5 612.5L620.5 638.5" stroke-width="1.1" fill="none"/>
<path d="M634 650.9L645.4 647.1L662.2 657L662.2 676.9L650 680.7L634 669.2Z" stroke-width="3" fill="#fff"/>
<path d="M634 650.9L650.8 660.8L662.2 657" stroke-width="1.5" fill="none"/>
<path d="M650.8 660.8L650 680.7" stroke-width="1.5" fill="none"/>
<path d="M639.5 649.2L644 655.8L644 674.5" stroke-width="1.1" fill="none"/>
<path d="M644 655.8L655 652.8" stroke-width="1.1" fill="none"/>
<path d="M713 840.5L723 835L731.4 840.5L731.4 851.7L721.7 856L713 851.7Z" stroke-width="2.8" fill="#fff"/>
<path d="M713 840.5L721.7 845.5L731.4 840.5" stroke-width="1.2" fill="none"/>
<path d="M721.7 845.5L721.7 856" stroke-width="1.2" fill="none"/>
<circle cx="495.4" cy="1353.7" r="165" stroke="#000" stroke-width="3.3" fill="none"/>
<path d="M361 1285L437.5 1283.7L440 1277.5L470 1277.5L475 1283.7L610 1283.7L611 1310L613.7 1320L610 1321L610 1330L633.7 1330L637.5 1335L637.5 1375L633.7 1377.5L610 1377.5L610 1387.5L612.5 1390L612.5 1400L610 1401L610 1420L606 1423.7L475 1423.7L467.5 1430L442.5 1431L440 1425L362.5 1422.5L361 1405L366 1395L368.7 1345L367.5 1310L363.7 1300Z" stroke-width="1.9" fill="none"/>
<circle cx="624.5" cy="1354" r="5.3" stroke="#000" stroke-width="1.2" fill="none"/>
<rect x="377.5" y="1295.5" width="37.0" height="38.0" rx="4.0" stroke="#000" stroke-width="2.8" fill="none"/>
<rect x="384.0" y="1349.5" width="22.0" height="30.0" rx="2.0" stroke="#000" stroke-width="2.6" fill="none"/>
<rect x="383.0" y="1385.5" width="23.0" height="30.5" rx="2.0" stroke="#000" stroke-width="2.6" fill="none"/>
<rect x="421.0" y="1323.7" width="20.0" height="80.0" rx="1.5" stroke="#000" stroke-width="1.1" fill="none"/>
<rect x="450.5" y="1290.7" width="20.5" height="66.8" rx="1.5" stroke="#000" stroke-width="1.1" fill="none"/>
<path d="M445 1371.5L465 1371.5L465 1390L471 1391.5L471 1399.5L465 1401L465 1420L445 1420Z" stroke-width="1.4" fill="none"/>
<rect x="489.0" y="1367.5" width="22.0" height="50.0" rx="1.5" stroke="#000" stroke-width="1.1" fill="none"/>
<rect x="533.7" y="1353.7" width="21.3" height="61.3" rx="2.0" stroke="#000" stroke-width="1.1" fill="none"/>
<rect x="567.5" y="1338.7" width="20.5" height="63.3" rx="2.0" stroke="#000" stroke-width="1.1" fill="none"/>
<rect x="484.5" y="1294.0" width="17.2" height="17.0" rx="1.5" stroke="#000" stroke-width="1.1" fill="none"/>
<rect x="502.0" y="1333.0" width="17.5" height="15.7" rx="2.0" stroke="#000" stroke-width="1.1" fill="none"/>
<rect x="543.0" y="1289.5" width="18.0" height="16.5" rx="3.0" stroke="#000" stroke-width="1.1" fill="none"/>
<rect x="538.7" y="1307.5" width="17.3" height="15.5" rx="3.0" stroke="#000" stroke-width="1.1" fill="none"/>
<rect x="572.5" y="1294.0" width="17.5" height="16.0" rx="3.0" stroke="#000" stroke-width="1.1" fill="none"/>
<rect x="568.0" y="1313.0" width="17.5" height="15.7" rx="3.0" stroke="#000" stroke-width="1.1" fill="none"/>
<rect x="535.5" y="1327.5" width="17.0" height="20.5" rx="2.0" stroke="#000" stroke-width="1.1" fill="none"/>
<path d="M270 208L354.6 670.2" stroke-width="2.2" fill="none"/>
<path d="M356.7 681.4L348.6 663.6L358 661.8Z" fill="#000" stroke="#000" stroke-width="0.6"/>
<path d="M533.5 99L376 668.6" stroke-width="2.2" fill="none"/>
<path d="M373 679.6L373.4 660L382.7 662.6Z" fill="#000" stroke="#000" stroke-width="0.6"/>
<path d="M628 199L402.3 664.7" stroke-width="2.2" fill="none"/>
<path d="M397.3 675L401.3 655.8L409.9 660Z" fill="#000" stroke="#000" stroke-width="0.6"/>
<path d="M743 325L589.7 610.4" stroke-width="2.2" fill="none"/>
<path d="M584.3 620.4L589.1 601.4L597.5 605.9Z" fill="#000" stroke="#000" stroke-width="0.6"/>
<path d="M1095 407L653.1 606" stroke-width="2.2" fill="none"/>
<path d="M642.7 610.7L658.1 598.5L662 607.3Z" fill="#000" stroke="#000" stroke-width="0.6"/>
<path d="M1033 601.2L663.6 648" stroke-width="2.2" fill="none"/>
<path d="M652.3 649.4L670.5 642.3L671.8 651.8Z" fill="#000" stroke="#000" stroke-width="0.6"/>
<path d="M1016 603.4L677.2 665" stroke-width="2.2" fill="none"/>
<path d="M666 667L683.8 658.9L685.6 668.3Z" fill="#000" stroke="#000" stroke-width="0.6"/>
<path d="M1014 974L514.7 695.1" stroke-width="2.2" fill="none"/>
<path d="M504.7 689.5L523.6 694.6L518.9 703Z" fill="#000" stroke="#000" stroke-width="0.6"/>
<path d="M939.5 1052.5L737 864.7" stroke-width="2.2" fill="none"/>
<path d="M728.6 857L745.8 866.4L739.3 873.4Z" fill="#000" stroke="#000" stroke-width="0.6"/>
<path d="M885 1146.7L411.1 714.4" stroke-width="2.2" fill="none"/>
<path d="M402.7 706.7L420 716L413.5 723.1Z" fill="#000" stroke="#000" stroke-width="0.6"/>
<path d="M835.7 1246.7L394.6 720.7" stroke-width="2.2" fill="none"/>
<path d="M387.3 712L403.2 723.5L395.8 729.6Z" fill="#000" stroke="#000" stroke-width="0.6"/>
<path d="M385.4 1000.7L372.5 729.8" stroke-width="2.2" fill="none"/>
<path d="M372 718.4L377.7 737.2L368.1 737.6Z" fill="#000" stroke="#000" stroke-width="0.6"/>
<path d="M179 382L291.2 704.9" stroke-width="2.2" fill="none"/>
<path d="M294.4 714L285.2 700.3L293.1 697.5Z" fill="#000" stroke="#000" stroke-width="0.6"/>
<path d="M180 382L301.8 703" stroke-width="2.2" fill="none"/>
<path d="M305.2 712L295.6 698.5L303.5 695.6Z" fill="#000" stroke="#000" stroke-width="0.6"/>
<path d="M181 382L311.4 701.4" stroke-width="2.2" fill="none"/>
<path d="M315 710.3L305.1 697.1L312.8 693.9Z" fill="#000" stroke="#000" stroke-width="0.6"/>
<path d="M170 618L266.7 743.5" stroke-width="2.2" fill="none"/>
<path d="M273.7 752.5L258.3 740.4L265.9 734.5Z" fill="#000" stroke="#000" stroke-width="0.6"/>
<path d="M356.5 1263C348.7 1253.8 324.1 1228.2 309.9 1208C295.7 1187.8 281.9 1164.4 271.4 1142C260.9 1119.6 252.9 1096.4 246.7 1073.5C240.5 1050.6 235.9 1026.3 234.3 1004.8C232.7 983.3 234.8 962.7 237.1 944.4C239.4 926.1 244.1 907.6 248 895C251.9 882.4 258.6 873.1 260.7 868.7" stroke-width="3" fill="none"/>
<path d="M265.9 857.9L262.6 878.5L251.8 873.3Z" fill="#000" stroke="#000" stroke-width="0.6"/>
<path d="M84.5 1267L359.8 1313.1" stroke-width="2.2" fill="none"/>
<path d="M371 1315L351.5 1316.6L353.1 1307.1Z" fill="#000" stroke="#000" stroke-width="0.6"/>
<path d="M174.5 1392L369.7 1369.3" stroke-width="2.2" fill="none"/>
<path d="M381 1368L362.7 1375L361.6 1365.4Z" fill="#000" stroke="#000" stroke-width="0.6"/>
<path d="M193 1497.5L369.8 1410.1" stroke-width="2.2" fill="none"/>
<path d="M380 1405L365.1 1417.7L360.8 1409.1Z" fill="#000" stroke="#000" stroke-width="0.6"/>
<path d="M711 1531L617.9 1433.7" stroke-width="2.2" fill="none"/>
<path d="M610 1425.5L626.6 1435.9L619.7 1442.5Z" fill="#000" stroke="#000" stroke-width="0.6"/>
<rect x="12.0" y="427.0" width="1.6" height="1.6" fill="#000" stroke="none"/>
<rect x="39.5" y="1304.5" width="1.6" height="1.6" fill="#000" stroke="none"/>
<rect x="46.0" y="1487.5" width="1.6" height="1.6" fill="#000" stroke="none"/>
<rect x="119.5" y="739.5" width="1.6" height="1.6" fill="#000" stroke="none"/>
<text x="107.5" y="54.5" font-size="22" font-weight="bold" textLength="283.5" lengthAdjust="spacingAndGlyphs" stroke-linejoin="round" stroke="#000" stroke-width="1.3" fill="#000">MOONROOF CLOSE RELAY</text>
<text x="107.5" y="75.5" font-size="22" font-weight="bold" textLength="113.5" lengthAdjust="spacingAndGlyphs" stroke-linejoin="round" stroke="#000" stroke-width="1.3" fill="#000">('03 model)</text>
<text x="116" y="104.5" font-size="22" textLength="285" lengthAdjust="spacingAndGlyphs" stroke-linejoin="round" stroke="#000" stroke-width="0.8" fill="#000">Wire colors: WHT/YEL, BLK,</text>
<text x="116" y="126" font-size="22" textLength="306.5" lengthAdjust="spacingAndGlyphs" stroke-linejoin="round" stroke="#000" stroke-width="0.8" fill="#000">GRN/RED, GRN and GRN/RED</text>
<path d="M118 83L111 83L111 128.7L118 128.7" stroke-width="2" fill="none"/>
<path d="M428 83L436 83L436 128.7L428 128.7" stroke-width="2" fill="none"/>
<text x="107.5" y="151.5" font-size="22" font-weight="bold" textLength="113.5" lengthAdjust="spacingAndGlyphs" stroke-linejoin="round" stroke="#000" stroke-width="1.3" fill="#000">('04 model)</text>
<text x="116" y="180" font-size="22" textLength="294" lengthAdjust="spacingAndGlyphs" stroke-linejoin="round" stroke="#000" stroke-width="0.8" fill="#000">Wire colors: GRN/WHT, BLK,</text>
<text x="116" y="202" font-size="22" textLength="306.5" lengthAdjust="spacingAndGlyphs" stroke-linejoin="round" stroke="#000" stroke-width="0.8" fill="#000">GRN/RED, GRN and GRN/RED</text>
<path d="M118 159.9L111 159.9L111 205.6L118 205.6" stroke-width="2" fill="none"/>
<path d="M428 159.9L436 159.9L436 205.6L428 205.6" stroke-width="2" fill="none"/>
<path d="M118 231L148 231L148 294L118 294Z" stroke-width="2" fill="none"/>
<text x="121" y="270" font-size="21" font-weight="bold" textLength="25" lengthAdjust="spacingAndGlyphs" stroke-linejoin="round" stroke="#000" stroke-width="1.3" fill="#000">90</text>
<path d="M163 231L192.5 231L192.5 294L163 294Z" stroke-width="2" fill="none"/>
<text x="166" y="270" font-size="21" font-weight="bold" textLength="24.5" lengthAdjust="spacingAndGlyphs" stroke-linejoin="round" stroke="#000" stroke-width="1.3" fill="#000">92</text>
<path d="M208 231L238 231L238 294L208 294Z" stroke-width="2" fill="none"/>
<text x="211" y="270" font-size="21" font-weight="bold" textLength="25" lengthAdjust="spacingAndGlyphs" stroke-linejoin="round" stroke="#000" stroke-width="1.3" fill="#000">91</text>
<text x="81" y="350.5" font-size="22" font-weight="bold" textLength="115" lengthAdjust="spacingAndGlyphs" stroke-linejoin="round" stroke="#000" stroke-width="1.3" fill="#000">AUXILIARY</text>
<text x="81" y="371.5" font-size="22" font-weight="bold" textLength="164" lengthAdjust="spacingAndGlyphs" stroke-linejoin="round" stroke="#000" stroke-width="1.3" fill="#000">FUSE HOLDERS</text>
<text x="540" y="109.5" font-size="22" font-weight="bold" textLength="190" lengthAdjust="spacingAndGlyphs" stroke-linejoin="round" stroke="#000" stroke-width="1.3" fill="#000">FOG LIGHT RELAY</text>
<text x="547.5" y="139.5" font-size="22" textLength="290" lengthAdjust="spacingAndGlyphs" stroke-linejoin="round" stroke="#000" stroke-width="0.8" fill="#000">Wire colors: BLK/GRN, ORN,</text>
<text x="547.5" y="160" font-size="22" textLength="247.5" lengthAdjust="spacingAndGlyphs" stroke-linejoin="round" stroke="#000" stroke-width="0.8" fill="#000">BLU/GRN and WHT/BLU</text>
<path d="M550 118.7L543 118.7L543 163.5L550 163.5" stroke-width="2" fill="none"/>
<path d="M848 118.7L856 118.7L856 163.5L848 163.5" stroke-width="2" fill="none"/>
<text x="634" y="203.5" font-size="22" font-weight="bold" textLength="463.5" lengthAdjust="spacingAndGlyphs" stroke-linejoin="round" stroke="#000" stroke-width="1.3" fill="#000">REAR STEREO AMPLIFIER RELAY ('03 model)</text>
<text x="634" y="224.5" font-size="22" textLength="276" lengthAdjust="spacingAndGlyphs" stroke-linejoin="round" stroke="#000" stroke-width="0.8" fill="#000">(With BOSE sound system)</text>
<text x="646" y="253" font-size="22" textLength="284" lengthAdjust="spacingAndGlyphs" stroke-linejoin="round" stroke="#000" stroke-width="0.8" fill="#000">Wire colors: YEL/WHT, BLK,</text>
<text x="646" y="274.5" font-size="22" textLength="200" lengthAdjust="spacingAndGlyphs" stroke-linejoin="round" stroke="#000" stroke-width="0.8" fill="#000">WHT and WHT/RED</text>
<path d="M645 233.5L638 233.5L638 278.5L645 278.5" stroke-width="2" fill="none"/>
<path d="M937 233.5L945 233.5L945 278.5L937 278.5" stroke-width="2" fill="none"/>
<text x="747.5" y="330" font-size="22" font-weight="bold" textLength="241.5" lengthAdjust="spacingAndGlyphs" stroke-linejoin="round" stroke="#000" stroke-width="1.3" fill="#000">AUTOMATIC LIGHTING</text>
<text x="747.5" y="352" font-size="22" font-weight="bold" textLength="163.5" lengthAdjust="spacingAndGlyphs" stroke-linejoin="round" stroke="#000" stroke-width="1.3" fill="#000">CONTROL UNIT</text>
<text x="1101" y="412" font-size="22" font-weight="bold" textLength="98.5" lengthAdjust="spacingAndGlyphs" stroke-linejoin="round" stroke="#000" stroke-width="1.3" fill="#000">DAYTIME</text>
<text x="1101" y="434" font-size="22" font-weight="bold" textLength="188" lengthAdjust="spacingAndGlyphs" stroke-linejoin="round" stroke="#000" stroke-width="1.3" fill="#000">RUNNING LIGHTS</text>
<text x="1101" y="455" font-size="22" font-weight="bold" textLength="162.5" lengthAdjust="spacingAndGlyphs" stroke-linejoin="round" stroke="#000" stroke-width="1.3" fill="#000">CONTROL UNIT</text>
<text x="1101" y="476" font-size="22" font-weight="bold" textLength="89.5" lengthAdjust="spacingAndGlyphs" stroke-linejoin="round" stroke="#000" stroke-width="1.3" fill="#000">(Canada)</text>
<text x="1037.5" y="606" font-size="22" font-weight="bold" textLength="232.5" lengthAdjust="spacingAndGlyphs" stroke-linejoin="round" stroke="#000" stroke-width="1.3" fill="#000">PGM-FI MAIN RELAY 1</text>
<text x="1043" y="629.5" font-size="22" textLength="338.5" lengthAdjust="spacingAndGlyphs" stroke-linejoin="round" stroke="#000" stroke-width="0.8" fill="#000">Wire colors: WHT/GRN, YEL/BLK,</text>
<text x="1043" y="651" font-size="22" textLength="255.5" lengthAdjust="spacingAndGlyphs" stroke-linejoin="round" stroke="#000" stroke-width="0.8" fill="#000">YEL/GRN, and WHT/GRN</text>
<path d="M1046 610L1039 610L1039 655.8L1046 655.8" stroke-width="2" fill="none"/>
<path d="M1388 610L1395 610L1395 655.8L1388 655.8" stroke-width="2" fill="none"/>
<text x="1037.5" y="676.5" font-size="22" font-weight="bold" textLength="233.5" lengthAdjust="spacingAndGlyphs" stroke-linejoin="round" stroke="#000" stroke-width="1.3" fill="#000">PGM-FI MAIN RELAY 2</text>
<text x="1043" y="702" font-size="22" textLength="345" lengthAdjust="spacingAndGlyphs" stroke-linejoin="round" stroke="#000" stroke-width="0.8" fill="#000">Wire colors: RED/WHT, RED/ORN,</text>
<text x="1043" y="722.8" font-size="22" textLength="191" lengthAdjust="spacingAndGlyphs" stroke-linejoin="round" stroke="#000" stroke-width="0.8" fill="#000">BLK, and GRN/YEL</text>
<path d="M1046 683L1039 683L1039 728L1046 728" stroke-width="2" fill="none"/>
<path d="M1388 683L1395 683L1395 728L1388 728" stroke-width="2" fill="none"/>
<text x="60" y="569.5" font-size="22" font-weight="bold" textLength="100" lengthAdjust="spacingAndGlyphs" stroke-linejoin="round" stroke="#000" stroke-width="1.3" fill="#000">DRIVER'S</text>
<text x="60" y="591" font-size="22" font-weight="bold" textLength="122.5" lengthAdjust="spacingAndGlyphs" stroke-linejoin="round" stroke="#000" stroke-width="1.3" fill="#000">MULTIPLEX</text>
<text x="60" y="612" font-size="22" font-weight="bold" textLength="162.5" lengthAdjust="spacingAndGlyphs" stroke-linejoin="round" stroke="#000" stroke-width="1.3" fill="#000">CONTROL UNIT</text>
<text x="300" y="1025" font-size="22" font-weight="bold" textLength="272" lengthAdjust="spacingAndGlyphs" stroke-linejoin="round" stroke="#000" stroke-width="1.3" fill="#000">MOONROOF OPEN RELAY</text>
<text x="300" y="1045.5" font-size="22" font-weight="bold" textLength="115.5" lengthAdjust="spacingAndGlyphs" stroke-linejoin="round" stroke="#000" stroke-width="1.3" fill="#000">('03 model)</text>
<text x="311.5" y="1070" font-size="22" textLength="282" lengthAdjust="spacingAndGlyphs" stroke-linejoin="round" stroke="#000" stroke-width="0.8" fill="#000">Wire colors: GRN/YEL, BLK,</text>
<text x="311.5" y="1091.5" font-size="22" textLength="300.5" lengthAdjust="spacingAndGlyphs" stroke-linejoin="round" stroke="#000" stroke-width="0.8" fill="#000">GRY/YEL, GRN and WHT/YEL</text>
<path d="M313.7 1050L306.7 1050L306.7 1095L313.7 1095" stroke-width="2" fill="none"/>
<path d="M626.5 1050L634.5 1050L634.5 1095L626.5 1095" stroke-width="2" fill="none"/>
<text x="300" y="1118.5" font-size="22" font-weight="bold" textLength="115.5" lengthAdjust="spacingAndGlyphs" stroke-linejoin="round" stroke="#000" stroke-width="1.3" fill="#000">('04 model)</text>
<text x="311.5" y="1144" font-size="22" textLength="282" lengthAdjust="spacingAndGlyphs" stroke-linejoin="round" stroke="#000" stroke-width="0.8" fill="#000">Wire colors: GRN/YEL, BLK,</text>
<text x="311.5" y="1166" font-size="22" textLength="308.5" lengthAdjust="spacingAndGlyphs" stroke-linejoin="round" stroke="#000" stroke-width="0.8" fill="#000">GRY/YEL, GRN and GRN/WHT</text>
<path d="M313.7 1123.6L306.7 1123.6L306.7 1168.7L313.7 1168.7" stroke-width="2" fill="none"/>
<path d="M626.5 1123.6L634.5 1123.6L634.5 1168.7L626.5 1168.7" stroke-width="2" fill="none"/>
<text x="1019.5" y="986.5" font-size="22" font-weight="bold" textLength="230" lengthAdjust="spacingAndGlyphs" stroke-linejoin="round" stroke="#000" stroke-width="1.3" fill="#000">TPMS RECEIVER UNIT</text>
<text x="1019.5" y="1008" font-size="22" font-weight="bold" textLength="114" lengthAdjust="spacingAndGlyphs" stroke-linejoin="round" stroke="#000" stroke-width="1.3" fill="#000">('04 model)</text>
<text x="950" y="1062.5" font-size="22" font-weight="bold" textLength="318" lengthAdjust="spacingAndGlyphs" stroke-linejoin="round" stroke="#000" stroke-width="1.3" fill="#000">REAR BLOWER MOTOR RELAY</text>
<text x="959" y="1091" font-size="22" textLength="277" lengthAdjust="spacingAndGlyphs" stroke-linejoin="round" stroke="#000" stroke-width="0.8" fill="#000">Wire colors: BLK/YEL, RED,</text>
<text x="959" y="1112.2" font-size="22" textLength="181" lengthAdjust="spacingAndGlyphs" stroke-linejoin="round" stroke="#000" stroke-width="0.8" fill="#000">BLU/YEL and BLK</text>
<path d="M962 1072.5L955 1072.5L955 1117.6L962 1117.6" stroke-width="2" fill="none"/>
<path d="M1250 1072.5L1258 1072.5L1258 1117.6L1250 1117.6" stroke-width="2" fill="none"/>
<text x="867.5" y="1170.5" font-size="22" font-weight="bold" textLength="221.5" lengthAdjust="spacingAndGlyphs" stroke-linejoin="round" stroke="#000" stroke-width="1.3" fill="#000">SEAT HEATER RELAY</text>
<text x="873" y="1192" font-size="22" textLength="238.5" lengthAdjust="spacingAndGlyphs" stroke-linejoin="round" stroke="#000" stroke-width="0.8" fill="#000">Wire colors: WHT/GRN,</text>
<text x="873" y="1212.5" font-size="22" textLength="247" lengthAdjust="spacingAndGlyphs" stroke-linejoin="round" stroke="#000" stroke-width="0.8" fill="#000">WHT/BLK, BLK and ORN</text>
<path d="M873.3 1174L866.3 1174L866.3 1217.3L873.3 1217.3" stroke-width="2" fill="none"/>
<path d="M1123.5 1174L1131.5 1174L1131.5 1217.3L1123.5 1217.3" stroke-width="2" fill="none"/>
<text x="840.7" y="1259.7" font-size="22" font-weight="bold" textLength="184.5" lengthAdjust="spacingAndGlyphs" stroke-linejoin="round" stroke="#000" stroke-width="1.3" fill="#000">TAILLIGHT RELAY</text>
<text x="846.5" y="1290" font-size="22" textLength="335" lengthAdjust="spacingAndGlyphs" stroke-linejoin="round" stroke="#000" stroke-width="0.8" fill="#000">Wire colors: RED/BLK, RED/GRN,</text>
<text x="846.5" y="1311" font-size="22" textLength="236.5" lengthAdjust="spacingAndGlyphs" stroke-linejoin="round" stroke="#000" stroke-width="0.8" fill="#000">RED/GRN and RED/YEL</text>
<path d="M847 1271L840 1271L840 1313.5L847 1313.5" stroke-width="2" fill="none"/>
<path d="M1197 1271L1205 1271L1205 1313.5L1197 1313.5" stroke-width="2" fill="none"/>
<text x="44.5" y="1238.5" font-size="22" font-weight="bold" textLength="250.5" lengthAdjust="spacingAndGlyphs" stroke-linejoin="round" stroke="#000" stroke-width="1.3" fill="#000">TURN SIGNAL/HAZARD</text>
<text x="44.5" y="1260" font-size="22" font-weight="bold" textLength="70" lengthAdjust="spacingAndGlyphs" stroke-linejoin="round" stroke="#000" stroke-width="1.3" fill="#000">RELAY</text>
<text x="45" y="1415.5" font-size="22" font-weight="bold" textLength="218.5" lengthAdjust="spacingAndGlyphs" stroke-linejoin="round" stroke="#000" stroke-width="1.3" fill="#000">A/T REVERSE RELAY</text>
<text x="55.5" y="1523.5" font-size="22" font-weight="bold" textLength="225" lengthAdjust="spacingAndGlyphs" stroke-linejoin="round" stroke="#000" stroke-width="1.3" fill="#000">STARTER CUT RELAY</text>
<text x="639.8" y="1556.2" font-size="22" font-weight="bold" textLength="445.7" lengthAdjust="spacingAndGlyphs" stroke-linejoin="round" stroke="#000" stroke-width="1.3" fill="#000">DRIVER'S UNDER-DASH FUSE/RELAY BOX</text>
</svg>
</body></html>
